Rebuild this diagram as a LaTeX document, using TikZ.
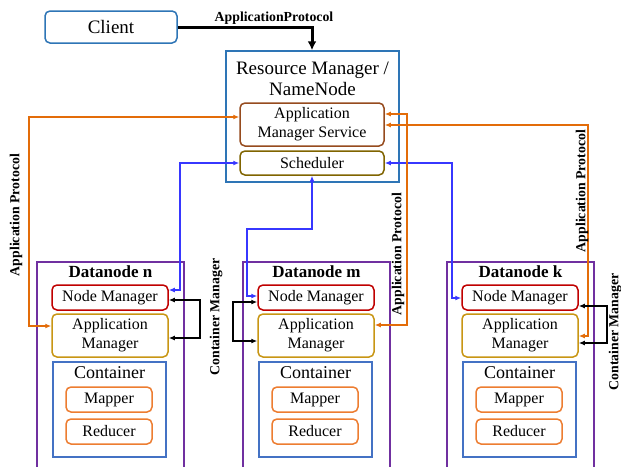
\documentclass[tikz,border=0pt]{standalone}
\usepackage{fontspec}
\setmainfont{Liberation Serif}
\usetikzlibrary{arrows.meta}
\definecolor{cliblue}{RGB}{46,117,182}
\definecolor{amsbrown}{RGB}{150,75,30}
\definecolor{schedolive}{RGB}{128,100,0}
\definecolor{dnpurple}{RGB}{112,48,160}
\definecolor{nmred}{RGB}{192,0,0}
\definecolor{amgold}{RGB}{200,150,20}
\definecolor{contblue}{RGB}{68,114,196}
\definecolor{mporange}{RGB}{237,125,49}
\definecolor{arrorange}{RGB}{227,108,9}
\definecolor{arrblue}{RGB}{55,55,255}
\begin{document}
\begin{tikzpicture}[x=1pt,y=-1pt,
  box/.style={draw,line width=1.5pt,rounded corners=5pt,inner sep=0pt,align=center},
  sqbox/.style={draw,line width=1.5pt,inner sep=0pt},
  txt16/.style={font=\fontsize{16}{19}\selectfont},
  lbl/.style={font=\fontsize{13.8}{15}\selectfont\bfseries,inner sep=0pt},
  conn/.style={line width=1.6pt,{Latex[length=6pt,width=5pt]}-{Latex[length=6pt,width=5pt]}},
  orangeconn/.style={conn,draw=arrorange},
  blueconn/.style={conn,draw=arrblue},
  blackconn/.style={conn,draw=black}]
\useasboundingbox (0,0) rectangle (621,466);
\fill[white] (0,0) rectangle (621,466);

% Client
\node[box,draw=cliblue,minimum width=132pt,minimum height=32pt,font=\fontsize{19}{21}\selectfont] (client) at (111,27) {Client};

% Resource Manager
\node[sqbox,draw=cliblue,minimum width=173pt,minimum height=131pt] (rm) at (312.5,116.5) {};
\node[font=\fontsize{19}{21}\selectfont,align=center,inner sep=0pt] (rmtitle) at (312.5,78.5) {Resource Manager /\\NameNode};
\node[box,draw=amsbrown,minimum width=144pt,minimum height=43pt,txt16] (ams) at (312,124.5) {Application\\Manager Service};
\node[box,draw=schedolive,minimum width=144pt,minimum height=24pt,txt16] (sched) at (312,163) {Scheduler};

% Client -> RM
\coordinate (cb) at (312,27);
\draw[line width=3pt,-{Latex[length=9pt,width=9pt]}] (client.east) -- (cb) -- (cb |- rm.north);
\node[lbl] (aplbl) at (274,18) {ApplicationProtocol};

% Datanodes
\foreach \d/\dx in {n/0,m/206,k/410}{
  \begin{scope}[xshift=\dx]
    \draw[line width=1.5pt,draw=dnpurple] (37,472) -- (37,262) -- (184,262) -- (184,472);
    \node[font=\fontsize{17}{19}\selectfont\bfseries,inner sep=0pt] (dntitle-\d) at (110.5,272) {Datanode \d};
    \node[box,draw=nmred,minimum width=116pt,minimum height=25pt,txt16] (nm-\d) at (110,297.5) {Node Manager};
    \node[box,draw=amgold,minimum width=116pt,minimum height=43pt,txt16] (am-\d) at (110,335.5) {Application\\Manager};
    \node[sqbox,draw=contblue,minimum width=113pt,minimum height=95pt] (ct-\d) at (109.5,409.5) {};
    \node[font=\fontsize{18}{20}\selectfont,inner sep=0pt] (cttitle-\d) at (109.5,373) {Container};
    \node[box,draw=mporange,minimum width=86pt,minimum height=25pt,txt16] (map-\d) at (109,399.5) {Mapper};
    \node[box,draw=mporange,minimum width=86pt,minimum height=25pt,txt16] (red-\d) at (109,431.5) {Reducer};
  \end{scope}
}

% Blue connectors (Scheduler <-> Node Managers)
\coordinate (bn) at (180,290);
\draw[blueconn] (sched.west) -| (bn) -- (bn -| nm-n.east);
\coordinate (bm1) at (312,229);
\coordinate (bm2) at (247,296);
\draw[blueconn] (sched.south) -- (bm1) -| (bm2) -- (bm2 -| nm-m.west);
\coordinate (bk) at (452,298);
\draw[blueconn] (sched.east) -| (bk) -- (bk -| nm-k.west);

% Orange connectors (AMS <-> Application Managers)
\coordinate (on1) at (29,117);
\coordinate (on2) at (29,326);
\draw[orangeconn] (on1 -| ams.west) -- (on1) -- (on2) -- (on2 -| am-n.west);
\coordinate (om1) at (407,114);
\coordinate (om2) at (407,325);
\draw[orangeconn] (om1 -| ams.east) -- (om1) -- (om2) -- (om2 -| am-m.east);
\coordinate (ok1) at (588,125);
\coordinate (ok2) at (588,336);
\draw[orangeconn] (ok1 -| ams.east) -- (ok1) -- (ok2) -- (ok2 -| am-k.east);

% Black connectors (Node Manager <-> Application Manager)
\coordinate (cn1) at (200,300);
\coordinate (cn2) at (200,338);
\draw[blackconn] (cn1 -| nm-n.east) -- (cn1) -- (cn2) -- (cn2 -| am-n.east);
\coordinate (cm1) at (233,302);
\coordinate (cm2) at (233,341);
\draw[blackconn] (cm1 -| nm-m.west) -- (cm1) -- (cm2) -- (cm2 -| am-m.west);
\coordinate (ck1) at (607,306);
\coordinate (ck2) at (607,343);
\draw[blackconn] (ck1 -| nm-k.east) -- (ck1) -- (ck2) -- (ck2 -| am-k.east);

% Rotated labels
\node[lbl,rotate=90] (apn) at (16,215) {Application Protocol};
\node[lbl,rotate=90] (apm) at (398,254) {Application Protocol};
\node[lbl,rotate=90] (apk) at (582,191) {Application Protocol};
\node[lbl,rotate=90] (cmn) at (216,317) {Container Manager};
\node[lbl,rotate=90] (cmk) at (615,332) {Container Manager};
\end{tikzpicture}
\end{document}
